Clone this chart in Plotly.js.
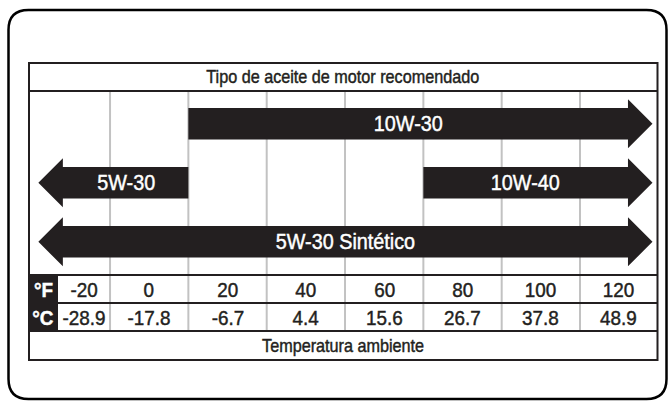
<!DOCTYPE html>
<html><head><meta charset="utf-8">
<script src="https://cdn.plot.ly/plotly-3.0.1.min.js"></script>
<style>
html,body{margin:0;padding:0;background:#fff;}
#chart .annotation-text{transform-box:fill-box;transform-origin:center;transform:scaleX(0.9);}
</style>
</head><body><div id="chart" style="width:669px;height:401px;"></div>
<script>
// ---- data ----
const tempF = [-20, 0, 20, 40, 60, 80, 100, 120];
const tempC = ['-28.9', '-17.8', '-6.7', '4.4', '15.6', '26.7', '37.8', '48.9'];
const oilNames = ['10W-30', '5W-30', '10W-40', '5W-30 Sintético'];
const oilRow = [0, 1, 1, 2];
const oilFromF = [10, -28.3, 70, -28.3];
const oilToF = [128.5, 10, 128.5, 128.5];
const oilHeadLeft = [false, true, false, true];
const oilHeadRight = [true, false, true, true];
const headerText = 'Tipo de aceite de motor recomendado';
const footerText = 'Temperatura ambiente';
const unitF = '°F';
const unitC = '°C';

// ---- layout constants (pixels) ----
const W = 669, H = 401;
const pxPerF = 78.33 / 20;
const px0F = 149.2;
const rowPx0 = 123.8, rowStep = 59;
const tbl = {left: 29, right: 657.5, top: 63, head: 91, fTop: 275, cTop: 303, foot: 331, bottom: 360, labelRight: 58};
const INK = '#231f20', GRID = '#c2c2c2';
const FONT = '"Liberation Sans", Arial, sans-serif';

const pxToF = p => (p - px0F) / pxPerF;
const PX = p => p / W;
const PY = p => 1 - p / H;

const xRange = [pxToF(0), pxToF(W)];
const yRange = [(H - rowPx0) / rowStep, (0 - rowPx0) / rowStep];

const bodyHalf = 15.75 / rowStep, headHalf = 24.5 / rowStep, headLen = 24.5 / pxPerF;

// ---- arrow traces ----
const traces = oilNames.map((name, i) => {
  const r = oilRow[i], a = oilFromF[i], b = oilToF[i];
  const xs = [], ys = [];
  const P = (x, y) => { xs.push(x); ys.push(y); };
  if (oilHeadLeft[i]) { P(a, r); P(a + headLen, r - headHalf); P(a + headLen, r - bodyHalf); }
  else { P(a, r + bodyHalf); P(a, r - bodyHalf); }
  if (oilHeadRight[i]) { P(b - headLen, r - bodyHalf); P(b - headLen, r - headHalf); P(b, r); P(b - headLen, r + headHalf); P(b - headLen, r + bodyHalf); }
  else { P(b, r - bodyHalf); P(b, r + bodyHalf); }
  if (oilHeadLeft[i]) { P(a + headLen, r + bodyHalf); P(a + headLen, r + headHalf); P(a, r); }
  else { P(a, r + bodyHalf); }
  return {type: 'scatter', mode: 'lines', x: xs, y: ys, fill: 'toself', fillcolor: INK,
          line: {width: 0, color: INK}, hoverinfo: 'skip', showlegend: false, name: name};
});

// ---- annotations ----
const annotations = [];
oilNames.forEach((name, i) => {
  const l = oilHeadLeft[i] ? oilFromF[i] + headLen : oilFromF[i];
  const rr = oilHeadRight[i] ? oilToF[i] - headLen : oilToF[i];
  annotations.push({xref: 'x', yref: 'y', x: (l + rr) / 2, y: oilRow[i], text: name, showarrow: false,
    font: {family: FONT, size: 22, color: '#ffffff'}, xanchor: 'center', yanchor: 'middle'});
});
const leftEdgeF = pxToF(tbl.labelRight), rightEdgeF = pxToF(tbl.right);
tempF.forEach((t, i) => {
  const l = i === 0 ? leftEdgeF : (tempF[i - 1] + t) / 2;
  const r = i === tempF.length - 1 ? rightEdgeF : (t + tempF[i + 1]) / 2;
  const cx = (l + r) / 2;
  annotations.push({xref: 'x', yref: 'paper', x: cx, y: PY((tbl.fTop + tbl.cTop) / 2), text: String(t), showarrow: false,
    font: {family: FONT, size: 21, color: INK}, xanchor: 'center', yanchor: 'middle'});
  annotations.push({xref: 'x', yref: 'paper', x: cx, y: PY((tbl.cTop + tbl.foot) / 2), text: tempC[i], showarrow: false,
    font: {family: FONT, size: 21, color: INK}, xanchor: 'center', yanchor: 'middle'});
});
annotations.push({xref: 'paper', yref: 'paper', x: PX((tbl.left + tbl.labelRight) / 2), y: PY((tbl.fTop + tbl.cTop) / 2), text: '<b>' + unitF + '</b>', showarrow: false,
  font: {family: FONT, size: 21, color: '#ffffff'}, xanchor: 'center', yanchor: 'middle'});
annotations.push({xref: 'paper', yref: 'paper', x: PX((tbl.left + tbl.labelRight) / 2), y: PY((tbl.cTop + tbl.foot) / 2), text: '<b>' + unitC + '</b>', showarrow: false,
  font: {family: FONT, size: 21, color: '#ffffff'}, xanchor: 'center', yanchor: 'middle'});
annotations.push({xref: 'paper', yref: 'paper', x: PX((tbl.left + tbl.right) / 2), y: PY((tbl.top + tbl.head) / 2), text: headerText, showarrow: false,
  font: {family: FONT, size: 18, color: INK}, xanchor: 'center', yanchor: 'middle'});
annotations.push({xref: 'paper', yref: 'paper', x: PX((tbl.left + tbl.right) / 2), y: PY((tbl.foot + tbl.bottom) / 2), text: footerText, showarrow: false,
  font: {family: FONT, size: 18, color: INK}, xanchor: 'center', yanchor: 'middle'});

// ---- shapes ----
const shapes = [];
for (let i = 0; i < tempF.length - 1; i++) {
  const xb = (tempF[i] + tempF[i + 1]) / 2;
  shapes.push({type: 'line', xref: 'x', yref: 'paper', x0: xb, x1: xb, y0: PY(tbl.head), y1: PY(tbl.foot),
    line: {color: GRID, width: 2}, layer: 'below'});
}
shapes.push({type: 'rect', xref: 'paper', yref: 'paper', x0: PX(tbl.left), x1: PX(tbl.labelRight), y0: PY(tbl.fTop), y1: PY(tbl.foot),
  fillcolor: INK, line: {width: 0}, layer: 'below'});
[tbl.head, tbl.fTop, tbl.cTop, tbl.foot].forEach(yv => {
  shapes.push({type: 'line', xref: 'paper', yref: 'paper', x0: PX(tbl.left), x1: PX(tbl.right), y0: PY(yv), y1: PY(yv),
    line: {color: INK, width: 2}});
});
shapes.push({type: 'rect', xref: 'paper', yref: 'paper', x0: PX(tbl.left), x1: PX(tbl.right), y0: PY(tbl.top), y1: PY(tbl.bottom),
  line: {color: INK, width: 2}, fillcolor: 'rgba(0,0,0,0)'});
(function () {
  const L = 8.5, R = 666.5, T = 10, B = 399, rad = 20;
  const p = (x, y) => PX(x) + ',' + PY(y);
  const path = 'M' + p(L + rad, T) + ' L' + p(R - rad, T) + ' Q' + p(R, T) + ' ' + p(R, T + rad) +
    ' L' + p(R, B - rad) + ' Q' + p(R, B) + ' ' + p(R - rad, B) +
    ' L' + p(L + rad, B) + ' Q' + p(L, B) + ' ' + p(L, B - rad) +
    ' L' + p(L, T + rad) + ' Q' + p(L, T) + ' ' + p(L + rad, T) + ' Z';
  shapes.push({type: 'path', xref: 'paper', yref: 'paper', path: path, line: {color: '#000000', width: 2.5}});
})();

const layout = {
  width: W, height: H,
  margin: {l: 0, r: 0, t: 0, b: 0, pad: 0},
  paper_bgcolor: '#ffffff', plot_bgcolor: 'rgba(0,0,0,0)',
  showlegend: false,
  xaxis: {range: xRange, visible: false, fixedrange: true},
  yaxis: {range: yRange, visible: false, fixedrange: true},
  shapes: shapes,
  annotations: annotations,
  hovermode: false
};
Plotly.newPlot('chart', traces, layout, {staticPlot: true, displayModeBar: false}).then(() => {
  // slightly heavier strokes to approximate the medium-weight condensed face
  document.querySelectorAll('#chart .annotation-text').forEach(el => {
    el.style.stroke = el.style.fill;
    el.style.strokeWidth = '0.45px';
  });
});
</script>
</body></html>
